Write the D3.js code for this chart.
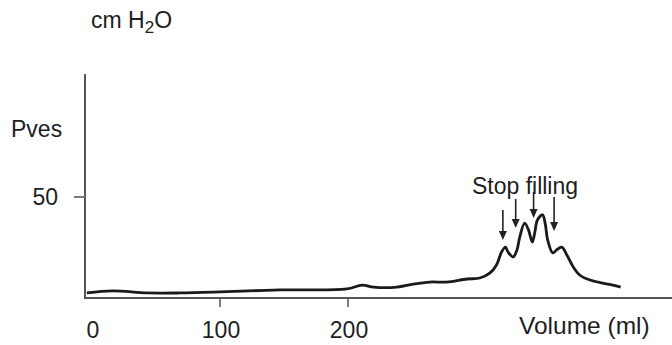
<!DOCTYPE html>
<html>
<head>
<meta charset="utf-8">
<script src="https://cdn.jsdelivr.net/npm/d3@7.9.0/dist/d3.min.js"></script>
<style>
  body { margin: 0; background: #fff; }
  svg { display: block; font-family: "Liberation Sans", Arial, sans-serif; }
  .lbl { font-size: 23px; fill: #1e1e1e; }
</style>
</head>
<body>
<svg id="chart" width="672" height="345"></svg>
<script>
// volume (ml) and vesical pressure (cm H2O)
const volume = [-4, 16, 43, 69, 100, 147, 199, 211, 220, 238, 251, 264, 277, 293, 303, 311, 316, 320, 323, 325, 329, 332, 334, 338, 341, 344, 346, 348, 352, 354, 356, 360, 363, 367, 371, 376, 381, 389, 399, 407, 413];
const pves = [2.5, 3.5, 2.5, 2.5, 3, 4, 4.5, 6.4, 5.4, 5.4, 6.9, 7.9, 7.9, 9.4, 9.9, 12.4, 16.3, 22.8, 25.2, 22.8, 20.3, 23.8, 29.7, 37.1, 33.7, 27.7, 32.7, 38.6, 41.1, 37.1, 28.7, 22.3, 23.8, 25.2, 21.3, 15.3, 11.4, 8.9, 7.4, 6.4, 5.4];

// "stop filling" arrows: volume, top and tip pressure
const arrowVol = [321, 331, 345, 361];
const arrowTop = [43.6, 49, 52.5, 50];
const arrowTip = [28.7, 34.7, 39.6, 33.2];

const xTicks = [0, 100, 200];
const yTicks = [50];

const svg = d3.select('#chart');
const x = d3.scaleLinear().domain([0, 100]).range([92, 220]);
const y = d3.scaleLinear().domain([0, 50]).range([298, 197]);

const axisX = 85;
const axisY = 298;

// axes
svg.append('line')
  .attr('x1', axisX).attr('x2', axisX)
  .attr('y1', 74).attr('y2', axisY + 1)
  .attr('stroke', '#555').attr('stroke-width', 2);
svg.append('line')
  .attr('x1', axisX - 1).attr('x2', 672)
  .attr('y1', axisY).attr('y2', axisY)
  .attr('stroke', '#555').attr('stroke-width', 2);

// x ticks (0 has none)
xTicks.filter((t) => t > 0).forEach((t) => {
  svg.append('line')
    .attr('x1', x(t)).attr('x2', x(t))
    .attr('y1', axisY).attr('y2', axisY + 9)
    .attr('stroke', '#555').attr('stroke-width', 1.5);
});
xTicks.forEach((t) => {
  svg.append('text').attr('class', 'lbl')
    .attr('x', x(t) + 1).attr('y', 338)
    .attr('text-anchor', 'middle')
    .text(t);
});

yTicks.forEach((t) => {
  svg.append('line')
    .attr('x1', axisX - 11).attr('x2', axisX)
    .attr('y1', y(t)).attr('y2', y(t))
    .attr('stroke', '#777').attr('stroke-width', 2);
  svg.append('text').attr('class', 'lbl')
    .attr('x', 58).attr('y', y(t) + 8)
    .attr('text-anchor', 'end')
    .text(t);
});

// labels
const unit = svg.append('text').attr('class', 'lbl').attr('x', 91).attr('y', 28);
unit.append('tspan').text('cm H');
unit.append('tspan').attr('font-size', 17).attr('dy', 5).text('2');
unit.append('tspan').attr('dy', -5).text('O');

svg.append('text').attr('class', 'lbl').attr('x', 11).attr('y', 137).text('Pves');
svg.append('text').attr('class', 'lbl').attr('x', 519).attr('y', 334)
  .style('font-size', '24.5px').text('Volume (ml)');
svg.append('text').attr('class', 'lbl').attr('x', 525).attr('y', 194)
  .attr('text-anchor', 'middle').text('Stop filling');

// trace
const line = d3.line()
  .x((d) => x(d[0]))
  .y((d) => y(d[1]))
  .curve(d3.curveCatmullRom.alpha(0.5));

svg.append('path')
  .datum(volume.map((v, i) => [v, pves[i]]))
  .attr('d', line)
  .attr('fill', 'none')
  .attr('stroke', '#1a1a1a')
  .attr('stroke-width', 2.8)
  .attr('stroke-linejoin', 'round');

// arrows
arrowVol.forEach((v, i) => {
  const ax = x(v);
  const top = y(arrowTop[i]);
  const tip = y(arrowTip[i]);
  svg.append('line')
    .attr('x1', ax).attr('x2', ax)
    .attr('y1', top).attr('y2', tip - 6)
    .attr('stroke', '#222').attr('stroke-width', 1.6);
  svg.append('path')
    .attr('d', `M${ax - 4},${tip - 9}L${ax + 4},${tip - 9}L${ax},${tip}Z`)
    .attr('fill', '#222');
});
</script>
</body>
</html>
